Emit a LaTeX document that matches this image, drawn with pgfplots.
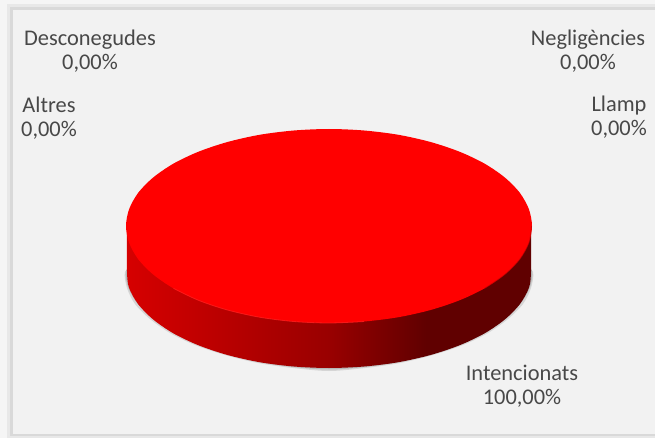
\documentclass[border=0pt]{standalone}
\usepackage{fontspec}
\setmainfont{Carlito}
\usepackage{pgfplots}
\pgfplotsset{compat=1.18}
\definecolor{labelColor}{RGB}{72,72,72}
\definecolor{panelColor}{RGB}{242,242,242}
\definecolor{frameColor}{RGB}{217,217,217}
\definecolor{sideLight}{RGB}{214,0,0}
\definecolor{sideMid}{RGB}{153,0,0}
\definecolor{sideDark}{RGB}{96,0,0}
\pgfdeclarehorizontalshading{sideShade}{100bp}{
  color(0bp)=(sideLight);
  color(25bp)=(sideLight);
  color(50bp)=(sideMid);
  color(62bp)=(sideDark);
  color(75bp)=(sideDark);
  color(100bp)=(sideDark)}
\newcommand{\lab}[3]{\node[align=center,text=labelColor,font=\fontsize{22.4}{24.2}\selectfont] at (axis cs:#1,#2) {#3};}
\begin{document}
\begin{tikzpicture}
\begin{axis}[
    width=655pt, height=438pt, scale only axis,
    xmin=0, xmax=655, ymin=0, ymax=438, y dir=reverse,
    hide axis, clip=true,
]
    % panel and its frame
    \addplot[draw=none, fill=white!92!gray] coordinates {(0,0) (655,0) (655,438) (0,438)} --cycle;
    \addplot[draw=none, fill=frameColor!60!white] coordinates {(7,4) (655,4) (655,438) (7,438)} --cycle;
    \addplot[draw=none, fill=frameColor] coordinates {(10,7) (655,7) (655,436) (10,436)} --cycle;
    \addplot[draw=none, fill=panelColor] coordinates {(13,10) (655,10) (655,434) (13,434)} --cycle;

    % soft shadow below the disc
    \addplot[draw=none, smooth, fill=gray, opacity=0.25] coordinates {
        (135,262) (125,272) (127,288) (135,304) (150,319) (170,333) (195,345) (225,355) (258,363) (293,368) (329,371)
        (365,368) (400,363) (433,355) (463,345) (488,333) (508,319) (523,304) (531,288) (533,272) (523,262)} --cycle;
    \addplot[draw=none, smooth, fill=gray, opacity=0.35] coordinates {
        (135,262) (126,271) (128,287) (137,303) (152,318) (172,332) (197,344) (227,354) (259,362) (293,367) (329,369.5)
        (365,367) (399,362) (431,354) (461,344) (486,332) (506,318) (521,303) (530,287) (532,271) (523,262)} --cycle;

    % side wall
    \addplot[draw=none, smooth, shade, shading=sideShade] coordinates {
        (127,226) (127,271) (129.1,287.8) (138.2,304.2) (153.2,319.5) (173.5,333.4) (198.5,345.3) (227.5,355) (259.6,362.2) (293.8,366.5) (329,368)
        (364.2,366.5) (398.4,362.2) (430.5,355) (459.5,345.3) (484.5,333.4) (504.8,319.5) (519.8,304.2) (528.9,287.8) (531,271) (531,226)} --cycle;

    % top of the disc
    \addplot[draw=none, smooth cycle, fill=red] coordinates {
        (532,226) (528.9,242.8) (519.8,259.2) (504.8,274.5) (484.5,288.4) (459.5,300.3) (430.5,310) (398.4,317.2) (364.2,321.5) (329,323)
        (293.8,321.5) (259.6,317.2) (227.5,310) (198.5,300.3) (173.5,288.4) (153.2,274.5) (138.2,259.2) (129.1,242.8) (126,226)
        (129.1,209.2) (138.2,192.8) (153.2,177.5) (173.5,163.6) (198.5,151.7) (227.5,142) (259.6,134.8) (293.8,130.5) (329,129)
        (364.2,130.5) (398.4,134.8) (430.5,142) (459.5,151.7) (484.5,163.6) (504.8,177.5) (519.8,192.8) (528.9,209.2)};

    % lighter rim along the front edge, darker on the right
    \addplot[smooth, line width=0.8pt, color=red!88!white, opacity=0.8] coordinates {
        (173.5,288.4) (198.5,300.3) (227.5,310) (259.6,317.2) (293.8,321.5) (329,323) (364.2,321.5)};
    \addplot[smooth, line width=0.8pt, color=red!75!black, opacity=0.6] coordinates {
        (484.5,288.4) (504.8,274.5) (519.8,259.2) (528.9,242.8) (531.5,226)};

    \lab{90}{51}{Desconegudes\\0,00\%}
    \lab{49}{118}{Altres\\0,00\%}
    \lab{588}{51}{Negligències\\0,00\%}
    \lab{619}{117.5}{Llamp\\0,00\%}
    \lab{522}{386.5}{Intencionats\\100,00\%}
\end{axis}
\end{tikzpicture}
\end{document}
